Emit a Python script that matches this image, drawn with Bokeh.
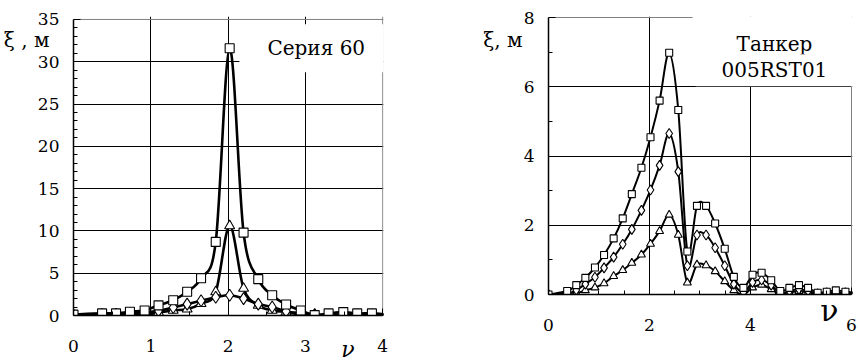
from bokeh.plotting import figure
from bokeh.models import Range1d, FixedTicker, Label, LinearAxis, Span
from bokeh.layouts import row
from bokeh.embed import file_html
from bokeh.resources import INLINE

# ---------------- data ----------------
# Left panel: "Серия 60"
nu_left = [0.0, 0.37, 0.55, 0.73, 0.92, 1.10, 1.29, 1.47, 1.65, 1.84, 2.02,
           2.20, 2.39, 2.57, 2.75, 2.94, 3.12, 3.30, 3.49, 3.67, 3.86, 4.04]
sq_left = [0.1, 0.25, 0.25, 0.45, 0.6, 1.2, 1.8, 2.8, 4.4, 8.7, 31.6,
           9.8, 4.3, 2.4, 1.3, 0.6, 0.05, 0.25, 0.4, 0.25, 0.25, 0.1]
tri_left = [0.0, 0.0, 0.0, 0.05, 0.1, 0.35, 0.6, 0.75, 1.4, 2.8, 10.6,
            3.2, 1.2, 0.6, 0.4, 0.1, 0.05, 0.05, 0.05, 0.05, 0.05, 0.05]
dia_left = [0.05, 0.1, 0.15, 0.25, 0.35, 0.55, 0.95, 1.35, 1.75, 2.15, 2.4,
            2.0, 1.35, 1.0, 0.5, 0.25, 0.1, 0.05, 0.05, 0.05, 0.05, 0.05]

# Right panel: "Танкер 005RST01"
nu_right = [0.0, 0.37, 0.55, 0.73, 0.92, 1.10, 1.29, 1.47, 1.65, 1.84, 2.02,
            2.20, 2.39, 2.57, 2.75, 2.94, 3.12, 3.30, 3.49, 3.67, 3.86, 4.04,
            4.22, 4.41, 4.59, 4.77, 4.96, 5.14, 5.33, 5.51, 5.69, 5.88, 6.06]
sq_right = [0.0, 0.1, 0.27, 0.48, 0.78, 1.14, 1.62, 2.2, 2.9, 3.66, 4.54,
            5.6, 6.98, 5.33, 1.24, 2.56, 2.56, 2.05, 1.32, 0.51, 0.19, 0.57,
            0.63, 0.41, 0.1, 0.19, 0.27, 0.19, 0.05, 0.08, 0.12, 0.08, 0.05]
dia_right = [0.0, 0.03, 0.13, 0.3, 0.5, 0.77, 1.08, 1.45, 1.88, 2.43, 3.02,
             3.73, 4.65, 3.55, 0.83, 1.72, 1.72, 1.35, 0.83, 0.3, 0.06, 0.35,
             0.42, 0.27, 0.03, 0.1, 0.15, 0.1, 0.02, 0.05, 0.05, 0.05, 0.05]
tri_right = [0.0, 0.0, 0.03, 0.12, 0.2, 0.32, 0.53, 0.7, 0.91, 1.15, 1.46,
             1.83, 2.3, 1.72, 0.34, 0.86, 0.84, 0.67, 0.38, 0.12, 0.0, 0.2,
             0.28, 0.15, 0.0, 0.05, 0.1, 0.05, 0.0, 0.02, 0.03, 0.02, 0.02]

# ticks
left_xticks = [0, 1, 2, 3, 4]
left_xminor = [0.5, 1.5, 2.5, 3.5]
left_yticks = [0, 5, 10, 15, 20, 25, 30, 35]
left_yminor = [v for v in range(1, 35) if v % 5 != 0]
right_xticks = [0, 2, 4, 6]
right_xminor = [0.5, 1, 1.5, 2.5, 3, 3.5, 4.5, 5, 5.5]
right_yticks = [0, 2, 4, 6, 8]
right_yminor = [1, 3, 5, 7]

FONT = "DejaVu Serif"
BORDER = "#808080"


def bezier_segments(xs, ys):
    n = len(xs)
    out = dict(x0=[], y0=[], x1=[], y1=[], cx0=[], cy0=[], cx1=[], cy1=[])
    for i in range(n - 1):
        a = i - 1 if i > 0 else i
        d = i + 2 if i + 2 < n else i + 1
        out["x0"].append(xs[i]); out["y0"].append(ys[i])
        out["x1"].append(xs[i + 1]); out["y1"].append(ys[i + 1])
        out["cx0"].append(xs[i] + (xs[i + 1] - xs[a]) / 6.0)
        out["cy0"].append(ys[i] + (ys[i + 1] - ys[a]) / 6.0)
        out["cx1"].append(xs[i + 1] - (xs[d] - xs[i]) / 6.0)
        out["cy1"].append(ys[i + 1] - (ys[d] - ys[i]) / 6.0)
    return out


def make_panel(width, height, xr, yr, xb, yb, borders, xt, xm, yt, ym, xgrid, ygrid):
    p = figure(width=width, height=height, x_range=Range1d(*xr), y_range=Range1d(*yr),
               output_backend="svg", toolbar_location=None,
               min_border_left=borders[0], min_border_right=borders[1],
               min_border_top=borders[2], min_border_bottom=borders[3])
    p.background_fill_color = "white"
    p.border_fill_color = "white"
    p.outline_line_color = None
    p.xaxis.ticker = FixedTicker(ticks=xt, minor_ticks=xm)
    p.yaxis.ticker = FixedTicker(ticks=yt, minor_ticks=ym)
    p.xaxis.bounds = xb
    p.yaxis.bounds = yb
    p.xgrid.ticker = FixedTicker(ticks=xgrid)
    p.ygrid.ticker = FixedTicker(ticks=ygrid)
    for g in (p.xgrid, p.ygrid):
        g.grid_line_color = "black"
        g.grid_line_width = 1
    for ax in (p.xaxis, p.yaxis):
        ax.axis_line_color = "black"
        ax.axis_line_width = 1.5
        ax.major_tick_line_color = "black"
        ax.minor_tick_line_color = "black"
        ax.major_tick_in = 7
        ax.major_tick_out = 0
        ax.minor_tick_in = 4
        ax.minor_tick_out = 0
        ax.major_label_text_font = FONT
        ax.major_label_text_font_size = "17px"
        ax.major_label_text_color = "black"
    p.xaxis.major_label_standoff = 24
    p.yaxis.major_label_standoff = 14
    # chart-area border (top and right), grey as in the original
    p.add_layout(Span(location=yb[1], dimension="width", line_color=BORDER,
                      line_width=1, level="underlay"))
    p.add_layout(Span(location=xb[1], dimension="height", line_color=BORDER,
                      line_width=1, level="underlay"))
    return p


def text_axis(pos, text, size, standoff, style="normal"):
    return LinearAxis(ticker=FixedTicker(ticks=[pos], minor_ticks=[]),
                      major_label_overrides={pos: text},
                      axis_line_color=None, major_tick_line_color=None,
                      minor_tick_line_color=None,
                      major_label_standoff=standoff,
                      major_label_text_font=FONT,
                      major_label_text_font_size=size,
                      major_label_text_font_style=style,
                      major_label_text_color="black")


def title_label(x, y, text, pad):
    # pad = (horizontal, vertical)
    return Label(x=x, y=y, text=text, text_align="center", text_baseline="middle",
                 text_font=FONT, text_font_size="20px", text_color="black",
                 background_fill_color="white", padding=pad)


def draw_series(p, xs, ys, marker, size, lw, xmax):
    seg = bezier_segments(xs, ys)
    p.bezier(x0=seg["x0"], y0=seg["y0"], x1=seg["x1"], y1=seg["y1"],
             cx0=seg["cx0"], cy0=seg["cy0"], cx1=seg["cx1"], cy1=seg["cy1"],
             line_color="black", line_width=lw)
    mx = [x for x in xs if x <= xmax]
    my = [y for x, y in zip(xs, ys) if x <= xmax]
    p.scatter(mx, my, marker=marker, size=size, fill_color="white",
              line_color="black", line_width=1.1)


# ---------------- left panel ----------------
p1 = make_panel(430, 364, (0, 4.01), (0, 35.35), (0, 4), (0, 35), (70, 47, 16, 47),
                left_xticks, left_xminor, left_yticks, left_yminor,
                [1, 2, 3], [5, 10, 15, 20, 25, 30])
draw_series(p1, nu_left, tri_left, "triangle", 10, 2.6, 4.0)
draw_series(p1, nu_left, dia_left, "diamond", 12, 2.6, 4.0)
draw_series(p1, nu_left, sq_left, "square", 9, 2.6, 4.0)

p1.add_layout(title_label(3.14, 31.6, "Серия 60", (28, 12)))
p1.add_layout(text_axis(32.6, "ξ , м", "20px", -21), "left")
p1.add_layout(text_axis(3.55, "ν", "22px", -24, "italic"), "below")

# ---------------- right panel ----------------
p2 = make_panel(428, 343, (0, 6.02), (0, 8.029), (0, 6), (0, 8), (118, 6, 16, 47),
                right_xticks, right_xminor, right_yticks, right_yminor,
                [2, 4], [2, 4, 6])
draw_series(p2, nu_right, tri_right, "triangle", 8, 2.0, 6.0)
draw_series(p2, nu_right, dia_right, "diamond", 10, 2.0, 6.0)
draw_series(p2, nu_right, sq_right, "square", 7, 2.0, 6.0)

p2.add_layout(title_label(4.475, 7.23, "Танкер", (44, 16)))
p2.add_layout(title_label(4.475, 6.48, "005RST01", (26, 4)))
p2.add_layout(text_axis(7.34, "ξ, м", "20px", -8), "left")
p2.add_layout(text_axis(5.56, "ν", "30px", -47), "below")

layout = row(p1, p2)
open("out.html", "w").write(file_html(layout, INLINE))
